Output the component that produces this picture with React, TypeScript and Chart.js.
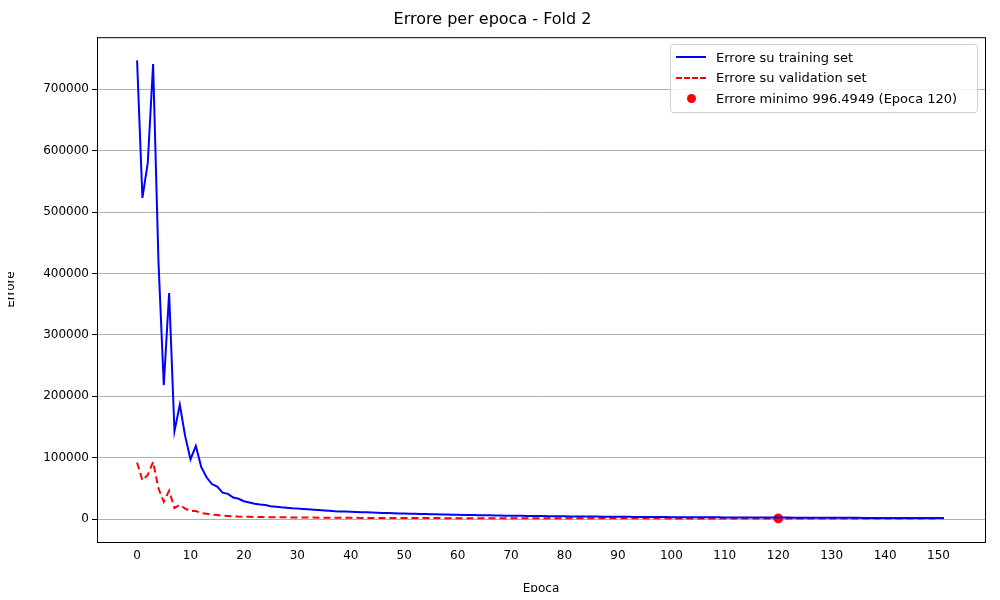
import React, { useEffect, useRef } from 'react';
import Chart from 'chart.js/auto';

// training error per epoch (0..151)
const trainLoss = [
  747000, 523000, 580000, 741000, 420000, 218000, 368000, 143000, 186000, 135000,
  97000, 119000, 85000, 68000, 57000, 53000, 43000, 41000, 35000, 33000,
  29000, 27000, 25000, 23500, 23000, 21000, 20000, 19000, 18200, 17500,
  17000, 16400, 15800, 15200, 14600, 14000, 13400, 12800, 12400, 12100,
  11800, 11500, 11200, 10900, 10600, 10300, 10000, 9700, 9400, 9100,
  8900, 8700, 8500, 8300, 8100, 7900, 7700, 7500, 7300, 7100,
  6900, 6750, 6600, 6450, 6300, 6150, 6000, 5850, 5700, 5550,
  5400, 5300, 5200, 5100, 5000, 4900, 4800, 4700, 4600, 4500,
  4400, 4320, 4240, 4160, 4080, 4000, 3930, 3860, 3790, 3720,
  3650, 3590, 3530, 3470, 3410, 3350, 3300, 3250, 3200, 3150,
  3100, 3050, 3000, 2960, 2920, 2880, 2840, 2800, 2760, 2720,
  2680, 2640, 2600, 2570, 2540, 2510, 2480, 2450, 2420, 2390,
  2360, 2330, 2300, 2270, 2240, 2210, 2180, 2150, 2120, 2090,
  2060, 2030, 2000, 1970, 1940, 1910, 1880, 1850, 1820, 1790,
  1760, 1730, 1700, 1680, 1660, 1640, 1620, 1600, 1580, 1560,
  1540, 1520,
];

// validation error per epoch (0..151)
const valLoss = [
  92000, 63000, 72000, 93000, 50000, 28000, 46000, 18000, 23000, 17000,
  13000, 13000, 10000, 8500, 7000, 6500, 5500, 5000, 4500, 4000,
  3800, 3600, 3450, 3300, 3150, 3000, 2900, 2800, 2700, 2620,
  2540, 2460, 2390, 2320, 2260, 2200, 2140, 2090, 2040, 1990,
  1950, 1910, 1870, 1830, 1800, 1770, 1740, 1710, 1680, 1650,
  1630, 1610, 1590, 1570, 1550, 1530, 1510, 1490, 1470, 1450,
  1440, 1430, 1420, 1410, 1400, 1390, 1380, 1370, 1360, 1350,
  1340, 1330, 1320, 1310, 1300, 1290, 1280, 1270, 1260, 1250,
  1240, 1230, 1220, 1210, 1200, 1190, 1180, 1170, 1160, 1150,
  1140, 1130, 1120, 1110, 1100, 1095, 1090, 1085, 1080, 1075,
  1070, 1065, 1060, 1055, 1050, 1045, 1040, 1035, 1030, 1025,
  1020, 1018, 1015, 1012, 1010, 1008, 1005, 1003, 1001, 999,
  996.4949, 1002, 1005, 1008, 1010, 1012, 1015, 1018, 1020, 1022,
  1025, 1028, 1030, 1032, 1035, 1038, 1040, 1042, 1045, 1048,
  1050, 1052, 1055, 1058, 1060, 1062, 1065, 1068, 1070, 1072,
  1075, 1078,
];

const minEpoch = 120;
const minValue = 996.4949;
const xTicks = [0, 10, 20, 30, 40, 50, 60, 70, 80, 90, 100, 110, 120, 130, 140, 150];
const yTicks = [0, 100000, 200000, 300000, 400000, 500000, 600000, 700000];

const FONT = "'DejaVu Sans', sans-serif";

// draw the full frame around the plot area, like matplotlib
const frame = {
  id: 'frame',
  afterDatasetsDraw(chart: any) {
    const { ctx, chartArea: a } = chart;
    ctx.save();
    ctx.strokeStyle = '#000';
    ctx.lineWidth = 1;
    ctx.strokeRect(a.left + 0.5, a.top + 0.5, a.right - a.left, a.bottom - a.top);
    ctx.restore();
  },
};

const App = () => {
  const ref = useRef<HTMLCanvasElement>(null);

  useEffect(() => {
    if (!ref.current) return;
    const chart = new Chart(ref.current, {
      type: 'line',
      data: {
        datasets: [
          {
            label: 'Errore su training set',
            data: trainLoss.map((v, i) => ({ x: i, y: v })),
            borderColor: '#0000ff',
            borderWidth: 2,
            pointRadius: 0,
            tension: 0,
          },
          {
            label: 'Errore su validation set',
            data: valLoss.map((v, i) => ({ x: i, y: v })),
            borderColor: '#ff0000',
            borderWidth: 2,
            borderDash: [7, 4],
            pointRadius: 0,
            tension: 0,
          },
          {
            type: 'scatter',
            label: 'Errore minimo',
            data: [{ x: minEpoch, y: minValue }],
            backgroundColor: '#ff0000',
            borderColor: '#ff0000',
            pointRadius: 4.5,
          } as any,
        ],
      },
      plugins: [frame],
      options: {
        animation: false,
        responsive: false,
        layout: { padding: { left: 0, right: 15, top: 0, bottom: 0 } },
        plugins: {
          legend: { display: false },
          tooltip: { enabled: false },
          title: {
            display: true,
            text: 'Errore per epoca - Fold 2',
            color: '#000',
            font: { family: FONT, size: 16, weight: 'normal' },
            padding: { top: 10, bottom: 8 },
          },
        },
        scales: {
          x: {
            type: 'linear',
            min: -7.5,
            max: 158.7,
            afterBuildTicks: (axis: any) => {
              axis.ticks = xTicks.map((v) => ({ value: v }));
            },
            afterFit: (axis: any) => { axis.height = 58; },
            grid: { display: false, drawTicks: true, tickLength: 5 },
            border: { color: '#000', width: 1 },
            ticks: { color: '#000', font: { family: FONT, size: 12 }, maxRotation: 0, padding: 2 },
            title: { display: true, text: 'Epoca', color: '#000', font: { family: FONT, size: 12 }, padding: { top: 4 } },
          },
          y: {
            min: -37400,
            max: 784700,
            afterBuildTicks: (axis: any) => {
              axis.ticks = yTicks.map((v) => ({ value: v }));
            },
            afterFit: (axis: any) => { axis.width = 97; },
            grid: { color: '#b0b0b0', lineWidth: 1, tickColor: '#000', tickLength: 5 },
            border: { color: '#000', width: 1 },
            ticks: { color: '#000', font: { family: FONT, size: 12 }, callback: (v: any) => String(v) },
            title: { display: true, text: 'Errore', color: '#000', font: { family: FONT, size: 12 }, padding: { bottom: 4 } },
          },
        },
      },
    });
    return () => chart.destroy();
  }, []);

  const row = { display: 'flex', alignItems: 'center', height: 20.5 } as const;
  return (
    <div style={{ position: 'relative', width: 1000, height: 600, margin: -8, fontFamily: FONT }}>
      <canvas ref={ref} width={1000} height={600} />
      <div
        style={{
          position: 'absolute', left: 670, top: 44, width: 306, padding: '2px 0 3px 0',
          border: '1px solid #d0d0d0', borderRadius: 3, background: 'rgba(255,255,255,0.85)',
          fontSize: 13, color: '#000',
        }}
      >
        <div style={row}>
          <div style={{ width: 30, marginLeft: 5, marginRight: 10, borderTop: '2px solid #0000ff' }} />
          Errore su training set
        </div>
        <div style={row}>
          <div style={{ width: 30, marginLeft: 5, marginRight: 10, borderTop: '2px dashed #ff0000' }} />
          Errore su validation set
        </div>
        <div style={row}>
          <div style={{ width: 30, marginLeft: 5, marginRight: 10, display: 'flex', justifyContent: 'center' }}>
            <div style={{ width: 9, height: 9, borderRadius: '50%', background: '#ff0000' }} />
          </div>
          Errore minimo 996.4949 (Epoca 120)
        </div>
      </div>
    </div>
  );
};

export default App;
